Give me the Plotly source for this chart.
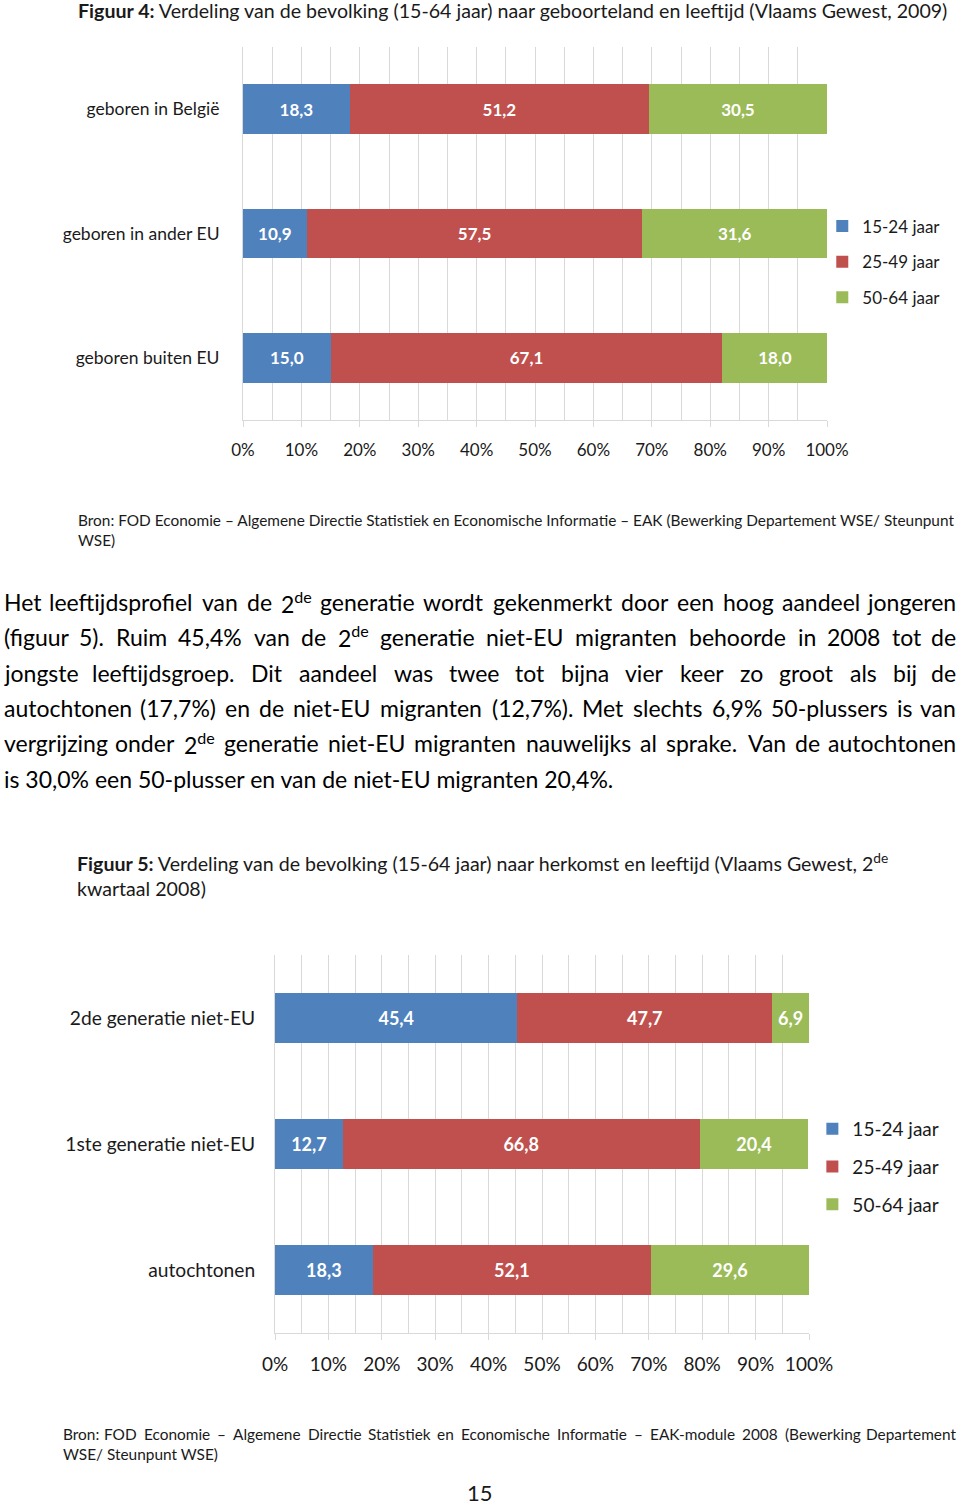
import re
import glob
import struct
import plotly.graph_objects as go

# ---------------- data ----------------
age_groups = ["15-24 jaar", "25-49 jaar", "50-64 jaar"]
colors = ["#4F81BD", "#C0504D", "#9BBB59"]

fig4_categories = ["geboren in België", "geboren in ander EU", "geboren buiten EU"]
fig4_15_24 = [18.3, 10.9, 15.0]
fig4_25_49 = [51.2, 57.5, 67.1]
fig4_50_64 = [30.5, 31.6, 18.0]

fig5_categories = ["2de generatie niet-EU", "1ste generatie niet-EU", "autochtonen"]
fig5_15_24 = [45.4, 12.7, 18.3]
fig5_25_49 = [47.7, 66.8, 52.1]
fig5_50_64 = [6.9, 20.4, 29.6]

x_tick_vals = [0, 10, 20, 30, 40, 50, 60, 70, 80, 90, 100]
x_tick_text = ["0%", "10%", "20%", "30%", "40%", "50%", "60%", "70%", "80%", "90%", "100%"]

FONT = "Lato"
W, H = 960, 1505


def px(x):
    return x / W


def py(y):
    return 1 - y / H


def fmt(v):
    return f"{v:.1f}".replace(".", ",")


# ---------- font metrics (for justified text / legend placement) ----------
def load_widths():
    cands = [p for p in glob.glob("/usr/share/fonts/**/*", recursive=True)
             if re.search(r"Lato-Regular\.(ttf|otf)$", p)]
    if not cands:
        return None
    data = open(cands[0], "rb").read()
    num = struct.unpack(">H", data[4:6])[0]
    tables = {}
    for i in range(num):
        tag, _, off, ln = struct.unpack(">4sIII", data[12 + 16 * i: 28 + 16 * i])
        tables[tag.decode("latin1")] = off
    upem = struct.unpack(">H", data[tables["head"] + 18: tables["head"] + 20])[0]
    nhm = struct.unpack(">H", data[tables["hhea"] + 34: tables["hhea"] + 36])[0]
    hm = tables["hmtx"]
    adv = [struct.unpack(">H", data[hm + 4 * i: hm + 4 * i + 2])[0] for i in range(nhm)]
    cm = tables["cmap"]
    ntab = struct.unpack(">H", data[cm + 2: cm + 4])[0]
    sub = None
    for i in range(ntab):
        pid, eid, off = struct.unpack(">HHI", data[cm + 4 + 8 * i: cm + 12 + 8 * i])
        fmt_ = struct.unpack(">H", data[cm + off: cm + off + 2])[0]
        if fmt_ == 4 and ((pid == 3 and eid == 1) or pid == 0):
            sub = cm + off
            break
    if sub is None:
        return None
    segx2 = struct.unpack(">H", data[sub + 6: sub + 8])[0]
    seg = segx2 // 2
    ends = struct.unpack(">%dH" % seg, data[sub + 14: sub + 14 + segx2])
    starts_off = sub + 16 + segx2
    starts = struct.unpack(">%dH" % seg, data[starts_off: starts_off + segx2])
    deltas = struct.unpack(">%dh" % seg, data[starts_off + segx2: starts_off + 2 * segx2])
    ro_off = starts_off + 2 * segx2
    ros = struct.unpack(">%dH" % seg, data[ro_off: ro_off + segx2])

    def gid(ch):
        c = ord(ch)
        for k in range(seg):
            if starts[k] <= c <= ends[k]:
                if ros[k] == 0:
                    return (c + deltas[k]) & 0xFFFF
                addr = ro_off + 2 * k + ros[k] + 2 * (c - starts[k])
                g = struct.unpack(">H", data[addr: addr + 2])[0]
                return (g + deltas[k]) & 0xFFFF if g else 0
        return 0

    def width(ch):
        g = gid(ch)
        return adv[min(g, nhm - 1)] / upem

    return width


try:
    CHAR_W = load_widths()
except Exception:
    CHAR_W = None

FALLBACK = {" ": 0.193, "i": 0.23, "l": 0.23, "j": 0.23, "f": 0.31, "t": 0.33,
            "r": 0.36, ".": 0.22, ",": 0.22, "(": 0.3, ")": 0.3, "m": 0.82,
            "w": 0.75, "%": 0.76, "-": 0.32}


def cw(c):
    if CHAR_W is not None:
        return CHAR_W(c)
    return FALLBACK.get(c, 0.52)


def word_width(word, size):
    total = 0.0
    for part in re.split(r"(<sup>.*?</sup>)", word):
        if part.startswith("<sup>"):
            total += 0.7 * sum(cw(c) for c in part[5:-6])
        else:
            total += sum(cw(c) for c in part)
    return total * size


fig = go.Figure()

series4 = [fig4_15_24, fig4_25_49, fig4_50_64]
series5 = [fig5_15_24, fig5_25_49, fig5_50_64]

for i, (name, vals) in enumerate(zip(age_groups, series4)):
    fig.add_trace(go.Bar(
        y=fig4_categories, x=vals, orientation="h", name=name,
        marker=dict(color=colors[i], line=dict(width=0)),
        text=[fmt(v) for v in vals], textposition="inside",
        insidetextanchor="middle", textangle=0,
        textfont=dict(family=FONT, size=17, color="white", weight="bold"),
        xaxis="x", yaxis="y", legend="legend", legendgroup=f"a{i}",
        hoverinfo="skip",
    ))

for i, (name, vals) in enumerate(zip(age_groups, series5)):
    fig.add_trace(go.Bar(
        y=fig5_categories, x=vals, orientation="h", name=name,
        marker=dict(color=colors[i], line=dict(width=0)),
        text=[fmt(v) for v in vals], textposition="inside",
        insidetextanchor="middle", textangle=0,
        textfont=dict(family=FONT, size=18, color="white", weight="bold"),
        xaxis="x2", yaxis="y2", legend="legend2", legendgroup=f"b{i}",
        hoverinfo="skip",
    ))

grid_col = "#D9D9D9"

common_x = dict(
    range=[0, 100], tickmode="array", tickvals=x_tick_vals, ticktext=x_tick_text,
    showgrid=True, gridcolor=grid_col, gridwidth=1,
    minor=dict(dtick=5, showgrid=True, gridcolor=grid_col, gridwidth=1, ticks=""),
    showline=True, linecolor=grid_col, linewidth=1,
    ticks="outside", ticklen=6, tickcolor=grid_col,
    zeroline=False, fixedrange=True, automargin=False,
)

# legends anchored on their right edge so they never push the margins
LEG1_SIZE, LEG2_SIZE = 17, 19
leg1_right = 824 + 45 + max(word_width(a, LEG1_SIZE) for a in age_groups)
leg2_right = 813 + 45 + max(word_width(a, LEG2_SIZE) for a in age_groups)

fig.update_layout(
    width=W, height=H, autosize=False,
    margin=dict(l=0, r=0, t=0, b=0, pad=0),
    paper_bgcolor="white", plot_bgcolor="white",
    barmode="stack", bargap=0.6,
    font=dict(family=FONT, color="#1a1a1a"),
    xaxis=dict(domain=[px(243), px(827)], anchor="y",
               tickfont=dict(family=FONT, size=17, color="#1a1a1a"),
               ticklabelstandoff=9, **common_x),
    yaxis=dict(domain=[py(420), py(47)], anchor="x", autorange="reversed",
               showgrid=False, showline=True, linecolor=grid_col, ticks="",
               tickfont=dict(family=FONT, size=17.5, color="#1a1a1a"),
               ticklabelstandoff=19, fixedrange=True, automargin=False),
    xaxis2=dict(domain=[px(275), px(809)], anchor="y2",
                tickfont=dict(family=FONT, size=19, color="#1a1a1a"),
                ticklabelstandoff=8, **common_x),
    yaxis2=dict(domain=[py(1333), py(955)], anchor="x2", autorange="reversed",
                showgrid=False, showline=True, linecolor=grid_col, ticks="",
                tickfont=dict(family=FONT, size=19.2, color="#1a1a1a"),
                ticklabelstandoff=15, fixedrange=True, automargin=False),
    legend=dict(x=min(px(leg1_right), 1.0), y=py(208.5), xanchor="right", yanchor="top",
                font=dict(family=FONT, size=LEG1_SIZE, color="#1a1a1a"),
                itemwidth=30, tracegroupgap=10.5, traceorder="grouped",
                bgcolor="rgba(0,0,0,0)"),
    legend2=dict(x=min(px(leg2_right), 1.0), y=py(1110), xanchor="right", yanchor="top",
                 font=dict(family=FONT, size=LEG2_SIZE, color="#1a1a1a"),
                 itemwidth=30, tracegroupgap=10, traceorder="grouped",
                 bgcolor="rgba(0,0,0,0)"),
)

annotations = []


def add_text(text, x, y, size, anchor="left", color="#1a1a1a"):
    annotations.append(dict(
        text=text, x=px(x), y=py(y), xref="paper", yref="paper",
        xanchor=anchor, yanchor="middle", showarrow=False,
        font=dict(family=FONT, size=size, color=color),
    ))


def add_justified(line, x0, x1, y, size, color="#1a1a1a"):
    words = line.split(" ")
    widths = [word_width(w, size) for w in words]
    gap = (x1 - x0 - sum(widths)) / (len(words) - 1)
    left = x0
    for k, (w, wd) in enumerate(zip(words, widths)):
        if k == 0:
            add_text(w, x0, y, size, anchor="left", color=color)
        elif k == len(words) - 1:
            add_text(w, x1, y, size, anchor="right", color=color)
        else:
            add_text(w, left + wd / 2, y, size, anchor="center", color=color)
        left += wd + gap


add_text("<b>Figuur 4:</b> Verdeling van de bevolking (15-64 jaar) naar geboorteland en leeftijd (Vlaams Gewest, 2009)",
         76, 10, 19.6)
add_text("Bron: FOD Economie – Algemene Directie Statistiek en Economische Informatie – EAK (Bewerking Departement WSE/ Steunpunt",
         76, 520, 15.4)
add_text("WSE)", 76, 540, 15.4)

BODY = 23
body_justified = [
    ("Het leeftijdsprofiel van de 2<sup>de</sup> generatie wordt gekenmerkt door een hoog aandeel jongeren", 602),
    ("(figuur 5). Ruim 45,4% van de 2<sup>de</sup> generatie niet-EU migranten behoorde in 2008 tot de", 637),
    ("jongste leeftijdsgroep. Dit aandeel was twee tot bijna vier keer zo groot als bij de", 673),
    ("autochtonen (17,7%) en de niet-EU migranten (12,7%). Met slechts 6,9% 50-plussers is van", 708),
    ("vergrijzing onder 2<sup>de</sup> generatie niet-EU migranten nauwelijks al sprake. Van de autochtonen", 743),
]
for line, y in body_justified:
    add_justified(line, 2, 958, y, BODY, color="#000000")
add_text("is 30,0% een 50-plusser en van de niet-EU migranten 20,4%.", 2, 779, BODY, color="#000000")

add_text("<b>Figuur 5:</b> Verdeling van de bevolking (15-64 jaar) naar herkomst en leeftijd (Vlaams Gewest, 2<sup>de</sup>",
         75, 862, 19.6)
add_text("kwartaal 2008)", 75, 888, 19.6)

add_justified("Bron: FOD Economie – Algemene Directie Statistiek en Economische Informatie – EAK-module 2008 (Bewerking Departement",
              61, 958, 1434, 15.4)
add_text("WSE/ Steunpunt WSE)", 61, 1454, 15.4)

add_text("15", 480, 1492, 22, anchor="center")

fig.update_layout(annotations=annotations)

fig.write_html(
    "out.html",
    config={"responsive": False, "displayModeBar": False},
    post_script="document.body.style.margin='0';",
)
